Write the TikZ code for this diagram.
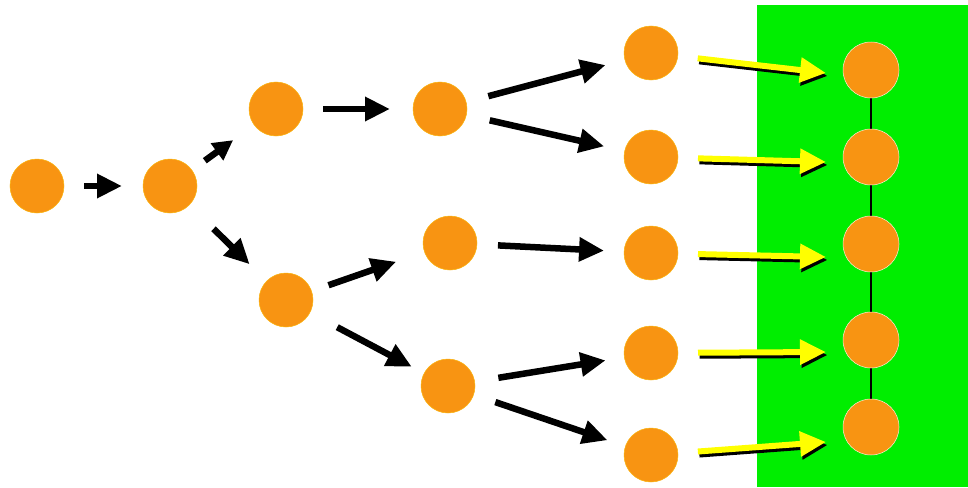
\documentclass[tikz,border=0pt]{standalone}
\usetikzlibrary{arrows.meta}
\definecolor{dotorange}{RGB}{248,148,18}
\definecolor{bggreen}{RGB}{0,238,0}
\definecolor{arryellow}{RGB}{255,255,0}
\tikzset{
  dot/.style={circle, fill=dotorange, draw=dotorange!70!yellow, line width=0.5pt, minimum size=54pt, inner sep=0pt},
  rdot/.style={dot, draw=white!85!orange, minimum size=56pt},
  blk/.style={draw=black, line width=6.5pt, -{Triangle[length=25pt,width=23pt]}},
  ylw/.style={draw=arryellow, line width=6pt, -{Triangle[length=26pt,width=24pt]}},
  ylwshadow/.style={draw=black, line width=6pt, -{Triangle[length=26pt,width=24pt]}, transform canvas={shift={(1.5pt,-3pt)}}},
}
\begin{document}
\begin{tikzpicture}[x=1pt,y=-1pt]
\useasboundingbox (0,0) rectangle (968,487);
\fill[white] (0,0) rectangle (968,487);
\fill[bggreen] (757,5) rectangle (968,487);

\node[dot] (A) at (37,186) {};
\node[dot] (B) at (170,186) {};
\node[dot] (C) at (276,109) {};
\node[dot] (D) at (286,300) {};
\node[dot] (E) at (440,109) {};
\node[dot] (F) at (450,243) {};
\node[dot] (G) at (448,386) {};
\node[dot] (H1) at (651,53) {};
\node[dot] (H2) at (651,157) {};
\node[dot] (H3) at (651,253) {};
\node[dot] (H4) at (651,353) {};
\node[dot] (H5) at (651,455) {};

\draw[line width=2.5pt] (871,70) -- (871,427);
\node[rdot] (R1) at (871,70) {};
\node[rdot] (R2) at (871,157) {};
\node[rdot] (R3) at (871,244) {};
\node[rdot] (R4) at (871,340) {};
\node[rdot] (R5) at (871,427) {};

\coordinate (T1) at (826,73);
\coordinate (T2) at (826,162);
\coordinate (T3) at (826,257);
\coordinate (T4) at (826,352);
\coordinate (T5) at (826,442);

\draw[blk, shorten <=47pt, shorten >=48pt] (A.center) -- (B.center);
\draw[blk, -{Triangle[length=20pt,width=20pt]}, shorten <=43pt, shorten >=53pt] (B.center) -- (C.center);
\draw[blk, shorten <=61pt, shorten >=51pt] (B.center) -- (D.center);
\draw[blk, shorten <=47pt, shorten >=50pt] (C.center) -- (E.center);
\draw[blk, shorten <=50pt, shorten >=47pt] (E.center) -- (H1.center);
\draw[blk, shorten <=51pt, shorten >=48pt] (E.center) -- (H2.center);
\draw[blk, shorten <=45pt, shorten >=57pt] (D.center) -- (F.center);
\draw[blk, shorten <=58pt, shorten >=41pt] (D.center) -- (G.center);
\draw[blk, shorten <=48pt, shorten >=47pt] (F.center) -- (H3.center);
\draw[blk, shorten <=51pt, shorten >=46pt] (G.center) -- (H4.center);
\draw[blk, shorten <=50pt, shorten >=46pt] (G.center) -- (H5.center);

\foreach \i in {1,...,5}{
  \draw[ylwshadow, shorten <=47pt] (H\i.center) -- (T\i);
  \draw[ylw, shorten <=47pt] (H\i.center) -- (T\i);
}
\end{tikzpicture}
\end{document}
